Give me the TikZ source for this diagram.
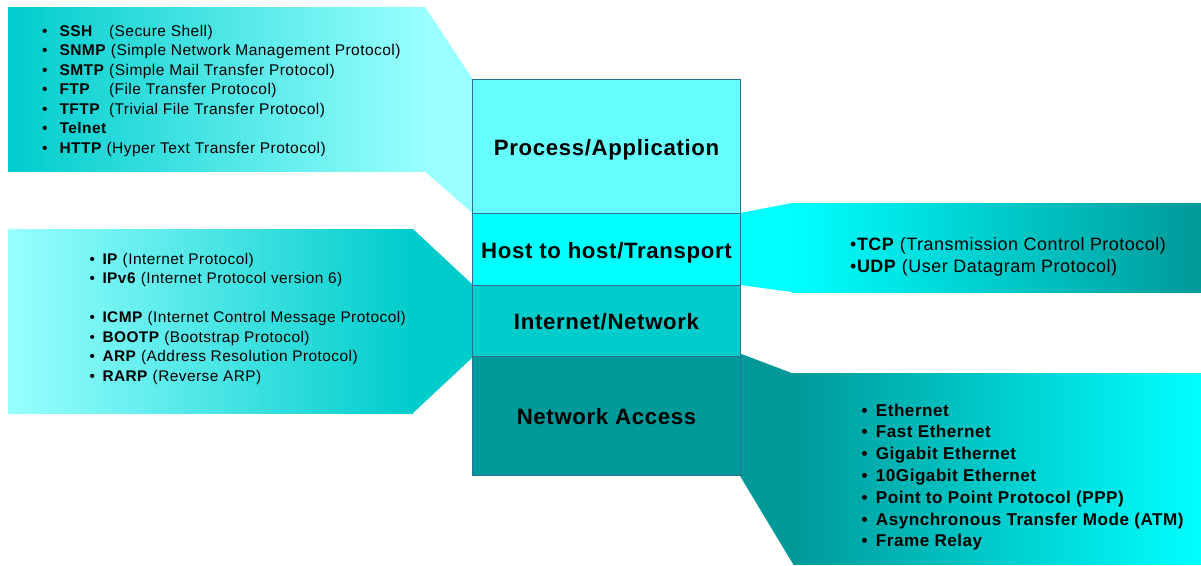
\documentclass[tikz,border=0pt]{standalone}
\usepackage{fontspec}
\setmainfont{Liberation Sans}[LetterSpace=3]
\definecolor{cA}{HTML}{66FFFF}
\definecolor{cB}{HTML}{00FFFF}
\definecolor{cC}{HTML}{00CCCC}
\definecolor{cD}{HTML}{009999}
\definecolor{cL}{HTML}{99FFFF}
\definecolor{edgecol}{HTML}{2A7090}
\newcommand{\bul}[1]{\makebox[#1][l]{\textbullet}}
\begin{document}
\begin{tikzpicture}[x=1pt,y=-1pt,
  layer/.style={draw=edgecol, line width=1pt, minimum width=267.5pt, inner sep=0pt,
    outer sep=0pt, anchor=north, text height=17pt, text depth=0pt,
    font=\fontsize{22.2}{26}\selectfont\bfseries},
  list/.style={anchor=base west, inner sep=0pt}]
\useasboundingbox[fill=white] (0,0) rectangle (1201,565);

% callout shapes
\shade[left color=cC, right color=cL] (8,7) rectangle (425,171.5);
\fill[cL] (425,7) -- (473,79.5) -- (473,213.5) -- (425,171.5) -- cycle;

\shade[left color=cL, right color=cC] (8,229) rectangle (413,413);
\fill[cC] (413,229) -- (473,285) -- (473,357) -- (413,413) -- cycle;

\fill[cB] (740,213) -- (792,203) -- (792,292) -- (740,285) -- cycle;
\shade[left color=cB, right color=cD] (792,203) rectangle (1201,292);

\fill[cD] (740,353.5) -- (793,373.5) -- (793,564) -- (740,476) -- cycle;
\shade[left color=cD, right color=cB] (793,373.5) rectangle (1201,564);

% layer stack
\node[layer, fill=cA, minimum height=134pt] (app) at (606.5,79.5) {Process/Application};
\node[layer, fill=cB, minimum height=72pt] (host) at (app.south) {Host to host/Transport};
\node[layer, fill=cC, minimum height=70.5pt] (inet) at (host.south) {Internet/Network};
\node[layer, fill=cD, minimum height=119.5pt] (acc) at (inet.south) {Network Access};

% lists
\node[list, font=\fontsize{15.5}{19.55}\selectfont] (applist) at (42,36) {%
\begin{tabular}[t]{@{}l@{}}
\bul{17.3pt}\makebox[49.5pt][l]{\textbf{SSH}}(Secure Shell)\\
\bul{17.3pt}\textbf{SNMP} (Simple Network Management Protocol)\\
\bul{17.3pt}\textbf{SMTP} (Simple Mail Transfer Protocol)\\
\bul{17.3pt}\makebox[49.5pt][l]{\textbf{FTP}}(File Transfer Protocol)\\
\bul{17.3pt}\makebox[49.5pt][l]{\textbf{TFTP}}(Trivial File Transfer Protocol)\\
\bul{17.3pt}\textbf{Telnet}\\
\bul{17.3pt}\textbf{HTTP} (Hyper Text Transfer Protocol)
\end{tabular}};

\node[list, font=\fontsize{15.4}{19.45}\selectfont] (netlist) at (89.5,264.3) {%
\begin{tabular}[t]{@{}l@{}}
\bul{12.8pt}\textbf{IP} (Internet Protocol)\\
\bul{12.8pt}\textbf{IPv6} (Internet Protocol version 6)\\
\\
\bul{12.8pt}\textbf{ICMP} (Internet Control Message Protocol)\\
\bul{12.8pt}\textbf{BOOTP} (Bootstrap Protocol)\\
\bul{12.8pt}\textbf{ARP} (Address Resolution Protocol)\\
\bul{12.8pt}\textbf{RARP} (Reverse ARP)
\end{tabular}};

\node[list, font=\fontsize{17.9}{22.7}\selectfont] (tplist) at (850,250) {%
\begin{tabular}[t]{@{}l@{}}
\textbullet\textbf{TCP} (Transmission Control Protocol)\\
\textbullet\textbf{UDP} (User Datagram Protocol)
\end{tabular}};

\node[list, font=\fontsize{17.1}{21.8}\selectfont\bfseries] (acclist) at (861.5,416) {%
\begin{tabular}[t]{@{}l@{}}
\bul{14.2pt}Ethernet\\
\bul{14.2pt}Fast Ethernet\\
\bul{14.2pt}Gigabit Ethernet\\
\bul{14.2pt}10Gigabit Ethernet\\
\bul{14.2pt}Point to Point Protocol (PPP)\\
\bul{14.2pt}Asynchronous Transfer Mode (ATM)\\
\bul{14.2pt}Frame Relay
\end{tabular}};
\end{tikzpicture}
\end{document}
